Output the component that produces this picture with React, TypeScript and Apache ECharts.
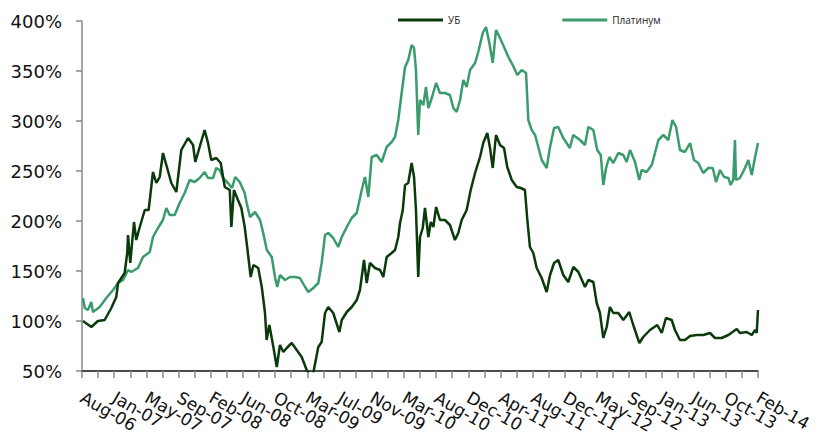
import React, { useEffect, useRef } from "react";
import * as echarts from "echarts";

// x positions are in tick units (0..42, one label every 2 ticks)
const xLabels = [
  "Aug-06", "Jan-07", "May-07", "Sep-07", "Feb-08", "Jun-08", "Oct-08", "Mar-09",
  "Jul-09", "Nov-09", "Mar-10", "Aug-10", "Dec-10", "Apr-11", "Aug-11", "Dec-11",
  "May-12", "Sep-12", "Jan-13", "Jun-13", "Oct-13", "Feb-14",
];

const ubT = [
  0.06, 0.58, 0.99, 1.41, 1.82, 2.13, 2.24, 2.65, 2.81, 2.86, 3.0, 3.23, 3.37, 3.59, 3.9, 4.14,
  4.41, 4.62, 4.83, 5.03, 5.24, 5.55, 5.86, 6.17, 6.59, 6.9, 7.04, 7.31, 7.62, 7.83, 8.03, 8.34,
  8.62, 8.87, 9.18, 9.28, 9.44, 9.69, 9.9, 10.11, 10.27, 10.48, 10.65, 10.95, 11.17, 11.37, 11.47,
  11.64, 11.89, 12.1, 12.3, 12.51, 12.72, 13.03, 13.34, 13.65, 13.96, 14.17, 14.37, 14.68, 14.89,
  15.1, 15.3, 15.61, 15.99, 16.14, 16.45, 16.76, 17.07, 17.27, 17.52, 17.69, 17.89, 18.2, 18.52,
  18.72, 18.93, 19.24, 19.45, 19.65, 19.76, 19.93, 20.07, 20.27, 20.48, 20.63, 20.75, 20.89, 21.0,
  21.17, 21.31, 21.52, 21.67, 21.83, 22.0, 22.24, 22.55, 22.86, 23.17, 23.38, 23.59, 23.9, 24.15,
  24.42, 24.73, 24.93, 25.18, 25.35, 25.52, 25.72, 25.97, 26.22, 26.42, 26.7, 27.01, 27.26, 27.52,
  27.67, 27.83, 28.04, 28.25, 28.56, 28.87, 29.08, 29.33, 29.59, 29.9, 30.21, 30.53, 30.84, 31.25,
  31.46, 31.77, 31.98, 32.18, 32.39, 32.6, 32.8, 33.01, 33.32, 33.63, 34.0, 34.29, 34.63, 34.87,
  35.29, 35.74, 36.02, 36.28, 36.64, 36.84, 37.15, 37.46, 37.78, 38.19, 38.6, 39.02, 39.33, 39.74,
  40.16, 40.68, 40.88, 41.3, 41.61, 41.82, 41.92, 42.0,
];
const ubV = [
  100, 94, 100, 101, 113, 124, 138, 148, 168, 186, 158, 199, 181, 194, 211, 211,
  249, 238, 244, 268, 256, 238, 229, 271, 283, 276, 259, 274, 291, 278, 261, 263,
  258, 234, 231, 194, 231, 221, 213, 194, 173, 144, 156, 153, 134, 108, 81,
  96, 74, 54, 76, 69, 73, 78, 71, 64, 51, 46, 48, 74, 79,
  108, 114, 108, 89, 101, 109, 114, 121, 131, 161, 138, 158, 153, 151,
  144, 164, 168, 171, 184, 198, 211, 236, 238, 258, 244, 211, 144, 184,
  193, 213, 184, 199, 194, 214, 201, 201, 196, 181, 188, 201, 211, 231,
  248, 264, 278, 288, 273, 253, 286, 276, 273, 254, 241, 234, 233, 231,
  201, 174, 168, 153, 143, 129, 146, 158, 161, 146, 139, 154, 149, 134,
  141, 139, 118, 108, 83, 94, 114, 108, 108, 101, 109, 94, 78, 84,
  91, 96, 88, 103, 101, 91, 81, 81, 85, 86, 86, 88, 83, 83,
  86, 92, 88, 89, 86, 91, 88, 111,
];

const plT = [
  0.06, 0.17, 0.37, 0.58, 0.68, 1.1, 1.51, 1.93, 2.24, 2.55, 2.86, 3.06, 3.48, 3.79, 4.21, 4.41,
  4.72, 5.03, 5.24, 5.45, 5.76, 6.07, 6.38, 6.69, 7.0, 7.31, 7.62, 7.83, 8.14, 8.34, 8.56, 8.76,
  9.07, 9.32, 9.52, 9.8, 10.11, 10.23, 10.44, 10.75, 11.06, 11.26, 11.48, 11.79, 11.99, 12.13,
  12.3, 12.61, 12.92, 13.23, 13.54, 13.86, 14.06, 14.37, 14.68, 14.89, 15.1, 15.3, 15.61, 15.92,
  16.14, 16.45, 16.76, 17.07, 17.38, 17.58, 17.79, 18.0, 18.31, 18.62, 18.93, 19.24, 19.45, 19.65,
  19.86, 20.07, 20.27, 20.48, 20.63, 20.75, 20.89, 21.0, 21.21, 21.37, 21.52, 21.73, 22.0, 22.24,
  22.55, 22.86, 23.07, 23.28, 23.49, 23.69, 23.9, 24.11, 24.42, 24.62, 24.9, 25.1, 25.31, 25.52,
  25.72, 25.97, 26.22, 26.49, 26.76, 27.05, 27.32, 27.59, 27.73, 27.94, 28.15, 28.35, 28.56, 28.87,
  29.08, 29.33, 29.59, 29.9, 30.31, 30.52, 30.94, 31.25, 31.46, 31.77, 32.01, 32.23, 32.39, 32.56,
  32.76, 33.01, 33.32, 33.63, 33.84, 34.05, 34.36, 34.62, 34.77, 35.08, 35.4, 35.6, 35.81, 36.12,
  36.43, 36.68, 36.91, 37.15, 37.46, 37.78, 38.02, 38.29, 38.6, 38.91, 39.19, 39.39, 39.64, 39.89,
  40.16, 40.3, 40.46, 40.57, 40.63, 40.88, 41.19, 41.4, 41.61, 41.82, 42.0,
];
const plV = [
  123, 113, 111, 119, 109, 114, 123, 131, 138, 141, 151, 149, 153, 164, 169, 184,
  193, 201, 213, 206, 206, 218, 228, 241, 239, 243, 249, 243, 243, 253, 251, 243,
  238, 233, 244, 239, 228, 218, 204, 209, 201, 188, 171, 164, 144, 134,
  146, 141, 144, 144, 143, 134, 129, 133, 138, 158, 186, 188, 183, 174,
  184, 194, 203, 208, 231, 244, 224, 264, 266, 259, 274, 279, 284, 301,
  328, 354, 361, 376, 373, 351, 286, 321, 316, 334, 313, 323, 338, 328,
  328, 326, 313, 309, 321, 341, 334, 351, 358, 369, 388, 394, 378, 358,
  391, 383, 374, 364, 356, 346, 351, 348, 301, 291, 286, 274, 261, 253,
  274, 293, 294, 283, 273, 286, 281, 276, 294, 291, 271, 266, 236, 253,
  264, 258, 268, 266, 259, 271, 259, 241, 251, 249, 256, 268, 281, 286,
  281, 301, 294, 271, 269, 278, 261, 258, 248, 253, 253, 239, 251, 244,
  243, 236, 241, 281, 241, 243, 253, 261, 246, 264, 278,
];

const UB_COLOR = "#0A3A0C";
const PL_COLOR = "#3A9C6C";
const FONT = "DejaVu Sans";

export default function App() {
  const ref = useRef<HTMLDivElement>(null);
  useEffect(() => {
    if (!ref.current) return;
    const chart = echarts.init(ref.current, undefined, { renderer: "svg" });
    const ub = ubT.map((t, i) => [t, ubV[i]]);
    const pl = plT.map((t, i) => [t, plV[i]]);
    chart.setOption({
      animation: false,
      backgroundColor: "#fff",
      legend: {
        left: 393,
        top: 10,
        itemWidth: 45,
        itemHeight: 3,
        itemGap: 102,
        icon: "rect",
        textStyle: { fontFamily: "Open Sans", fontSize: 10, color: "#222" },
        data: [
          { name: "УБ", itemStyle: { color: UB_COLOR } },
          { name: "Платинум", itemStyle: { color: PL_COLOR } },
        ],
      },
      grid: {
        left: 82,
        right: 60,
        top: 21,
        bottom: 66,
        containLabel: false,
        outerBoundsMode: "none",
      },
      xAxis: {
        type: "value",
        min: 0,
        max: 42,
        interval: 1,
        splitLine: { show: false },
        axisLine: { show: true, lineStyle: { color: "#111", width: 1.5 } },
        axisTick: { show: true, length: 7, lineStyle: { color: "#888", width: 1.5 } },
        axisLabel: {
          rotate: -30,
          margin: 25,
          fontFamily: FONT,
          fontSize: 17,
          color: "#111",
          formatter: (v: number) => (v % 2 === 0 ? xLabels[v / 2] ?? "" : ""),
        },
      },
      yAxis: {
        type: "value",
        min: 50,
        max: 400,
        interval: 50,
        splitLine: { show: false },
        axisLine: { show: true, lineStyle: { color: "#888", width: 1.5 } },
        axisTick: { show: true, length: 6, lineStyle: { color: "#888", width: 1.5 } },
        axisLabel: {
          margin: 20,
          fontFamily: FONT,
          fontSize: 18,
          color: "#111",
          formatter: "{value}%",
        },
      },
      series: [
        {
          name: "УБ",
          type: "line",
          data: ub,
          showSymbol: false,
          symbol: "none",
          lineStyle: { color: UB_COLOR, width: 2.5 },
          itemStyle: { color: UB_COLOR },
          z: 3,
        },
        {
          name: "Платинум",
          type: "line",
          data: pl,
          showSymbol: false,
          symbol: "none",
          lineStyle: { color: PL_COLOR, width: 2.5 },
          itemStyle: { color: PL_COLOR },
          z: 2,
        },
      ],
    });
    return () => chart.dispose();
  }, []);
  return <div ref={ref} style={{ width: 818, height: 437, position: "absolute", left: 0, top: 0 }} />;
}
